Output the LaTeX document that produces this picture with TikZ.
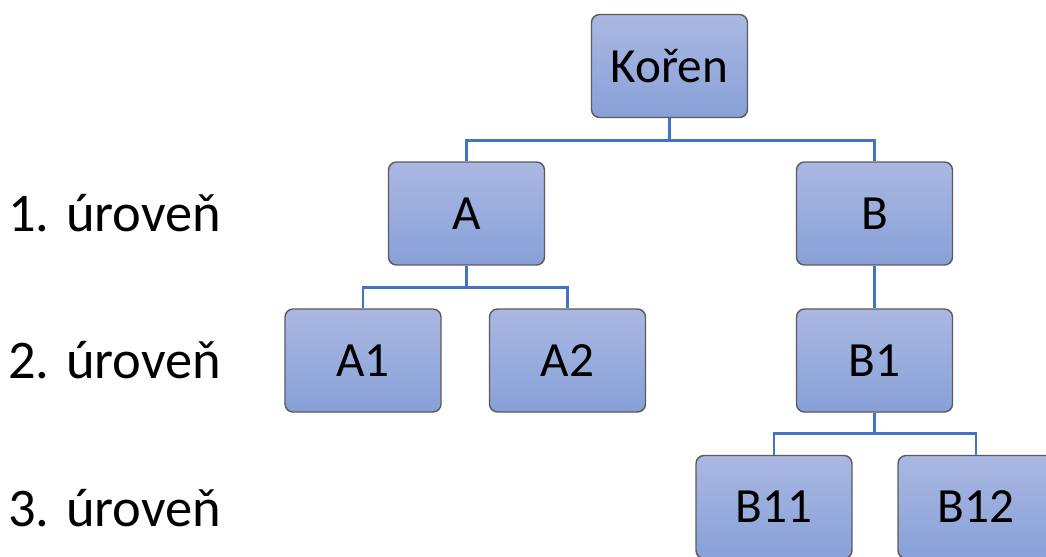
\documentclass[tikz,border=0pt]{standalone}
\usepackage{fontspec}
\setmainfont{Carlito}
\usetikzlibrary{positioning}
\definecolor{boxtop}{HTML}{AAB8E2}
\definecolor{boxbot}{HTML}{88A0D8}
\definecolor{boxline}{HTML}{5A5A5A}
\definecolor{linkblue}{HTML}{4472C4}

\begin{document}
\begin{tikzpicture}[x=0.02cm,y=-0.02cm,
 box/.style={draw=boxline,line width=0.8pt,rounded corners=0.16cm,top color=boxtop,bottom color=boxbot,
  minimum width=3.12cm,minimum height=2.06cm,font=\fontsize{28}{34}\selectfont},
 link/.style={draw=linkblue,line width=1.6pt},
 level/.style={anchor=west,inner sep=0pt,font=\fontsize{31}{36}\selectfont}]
\useasboundingbox (0,0) rectangle (1046,556);
\clip (0,0) rectangle (1046,556);
% tree nodes
\node[box] (root) at (669.5,66) {Kořen};
\node[box] (A) at (466.5,213.5) {A};
\node[box] (B) at (874.5,213.5) {B};
\node[box] (A1) at (363,360.5) {A1};
\node[box] (A2) at (567.5,360.5) {A2};
\node[box] (B1) at (874.5,360.5) {B1};
\node[box] (B11) at (774,507) {B11};
\node[box] (B12) at (976,507) {B12};
% level labels
\node[level] (l1) at (8,213.5) {1. úroveň};
\node[level] (l2) at (8,360.5) {2. úroveň};
\node[level] (l3) at (8,508) {3. úroveň};
% connectors
\draw[link] (root.south) -- ++(0,22) -| (A.north);
\draw[link] (root.south) -- ++(0,22) -| (B.north);
\draw[link] (A.south) -- ++(0,22) -| (A1.north);
\draw[link] (A.south) -- ++(0,22) -| (A2.north);
\draw[link] (B.south) -- (B1.north);
\draw[link] (B1.south) -- ++(0,21) -| (B11.north);
\draw[link] (B1.south) -- ++(0,21) -| (B12.north);
\end{tikzpicture}
\end{document}
